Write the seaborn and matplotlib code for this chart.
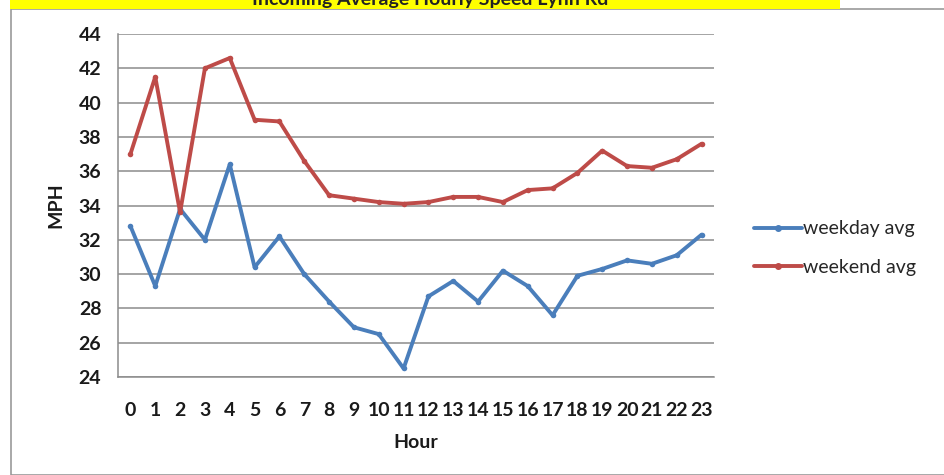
import pandas as pd
import matplotlib
matplotlib.use('Agg')
import matplotlib.pyplot as plt
from matplotlib.patches import Rectangle
from matplotlib.lines import Line2D
import seaborn as sns

hours = list(range(24))
weekday_avg = [32.8, 29.3, 33.8, 32.0, 36.4, 30.4, 32.2, 30.0, 28.4, 26.9, 26.5, 24.5,
               28.7, 29.6, 28.4, 30.2, 29.3, 27.6, 29.9, 30.3, 30.8, 30.6, 31.1, 32.3]
weekend_avg = [37.0, 41.5, 33.6, 42.0, 42.6, 39.0, 38.9, 36.6, 34.6, 34.4, 34.2, 34.1,
               34.2, 34.5, 34.5, 34.2, 34.9, 35.0, 35.9, 37.2, 36.3, 36.2, 36.7, 37.6]
series_names = ['weekday avg', 'weekend avg']
series_colors = ['#4a7ebb', '#be4b48']
y_ticks = list(range(24, 45, 2))

df = pd.DataFrame({
    'Hour': hours * 2,
    'MPH': weekday_avg + weekend_avg,
    'series': [series_names[0]] * 24 + [series_names[1]] * 24,
})

sns.set_style('white')
plt.rcParams['font.family'] = ['Lato', 'DejaVu Sans']

fig = plt.figure(figsize=(9.44, 4.75), dpi=100)
W, H = 944, 475

# outer chart frame and the yellow title bar, cut off at the top like the original
fig.patches.append(Rectangle((11 / W, 0), 1, 1 - 9 / H, transform=fig.transFigure,
                             fill=False, edgecolor='#9a9a9a', linewidth=1.2))
fig.patches.append(Rectangle((10 / W, 1 - 9 / H), 830 / W, 9 / H, transform=fig.transFigure,
                             facecolor='#ffff00', edgecolor='none'))
fig.text(430 / W, 1 - 5 / H, 'Incoming Average Hourly Speed Lynn Rd', ha='center',
         va='baseline', fontsize=14, fontweight='bold', color='#222222')

ax = fig.add_axes([118 / W, 1 - 377 / H, (714 - 118) / W, (377 - 34) / H])
sns.lineplot(data=df, x='Hour', y='MPH', hue='series', palette=series_colors,
             marker='o', markersize=4, markeredgewidth=0, linewidth=2.8,
             legend=False, ax=ax)

ax.set_xlim(-0.5, 23.5)
ax.set_ylim(24, 44)
ax.set_xticks(hours)
ax.set_xticklabels([str(h) for h in hours], fontsize=14, fontweight='bold')
ax.set_yticks(y_ticks)
ax.set_yticklabels([str(t) for t in y_ticks], fontsize=14, fontweight='bold')
ax.tick_params(axis='both', length=0, colors='#1a1a1a')
ax.tick_params(axis='x', pad=18)
ax.tick_params(axis='y', pad=12)
ax.grid(axis='y', color='#8c8c8c', linewidth=1.1)
ax.set_axisbelow(True)
for side in ['top', 'right']:
    ax.spines[side].set_visible(False)
for side in ['left', 'bottom']:
    ax.spines[side].set_color('#8c8c8c')
    ax.spines[side].set_linewidth(1.1)

ax.set_xlabel('Hour', fontsize=14, fontweight='bold', color='#1a1a1a', labelpad=11)
ax.set_ylabel('MPH', fontsize=14, fontweight='bold', color='#1a1a1a', labelpad=10)

handles = [Line2D([0], [0], color=c, linewidth=2.8, marker='o', markersize=4) for c in series_colors]
fig.legend(handles, series_names, loc='center left', bbox_to_anchor=(736 / W, 1 - 248 / H),
           frameon=False, fontsize=14, handlelength=2.5, handletextpad=0.05, labelspacing=1.1)

fig.savefig('out.png', dpi=100)
